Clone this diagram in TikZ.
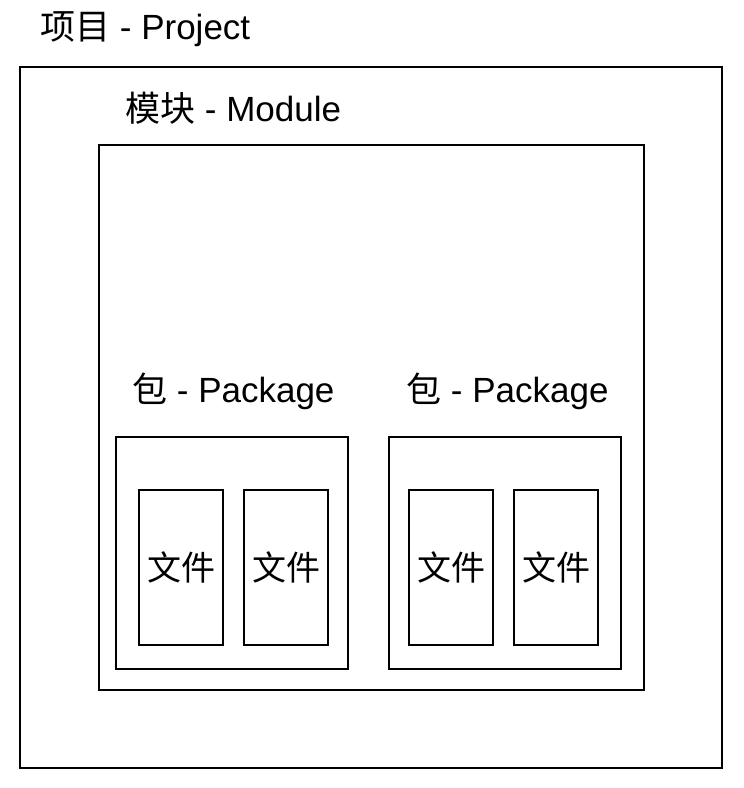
\documentclass[tikz,border=0pt]{standalone}
\usepackage{fontspec}
\setmainfont{Liberation Sans}
\newfontfamily\cjk{Noto Sans CJK SC}
\newcommand{\filetext}{\raisebox{-3pt}{文件}}
\begin{document}
\begin{tikzpicture}[x=1pt,y=-1pt,
  box/.style={draw=black,line width=2.7pt,fill=none,inner sep=0pt,outer sep=0pt},
  filebox/.style={box,minimum width=84pt,minimum height=155pt,font=\fontsize{34}{40}\selectfont\cjk},
  caption/.style={anchor=base west,inner sep=0pt,font=\fontsize{35}{40}\selectfont}]
\useasboundingbox[fill=white] (0,0) rectangle (744,788);
% nested containers
\node[box,minimum width=702pt,minimum height=701pt] (project) at (371,417.5) {};
\node[box,minimum width=545pt,minimum height=545pt] (module) at (371.5,417.5) {};
\node[box,minimum width=232pt,minimum height=232pt] (pkgA) at (232,553) {};
\node[box,minimum width=232pt,minimum height=232pt] (pkgB) at (505,553) {};
% files
\node[filebox] (fileA1) at (181,567.5) {\filetext};
\node[filebox] (fileA2) at (286,567.5) {\filetext};
\node[filebox] (fileB1) at (451,567.5) {\filetext};
\node[filebox] (fileB2) at (556,567.5) {\filetext};
% captions
\node[caption] (projectlabel) at (40,39) {{\cjk 项目} - Project};
\node[caption] (modulelabel) at (125,121) {{\cjk 模块} - Module};
\node[caption] (pkgAlabel) at (132,402) {{\cjk 包} - Package};
\node[caption] (pkgBlabel) at (406,402) {{\cjk 包} - Package};
\end{tikzpicture}
\end{document}
